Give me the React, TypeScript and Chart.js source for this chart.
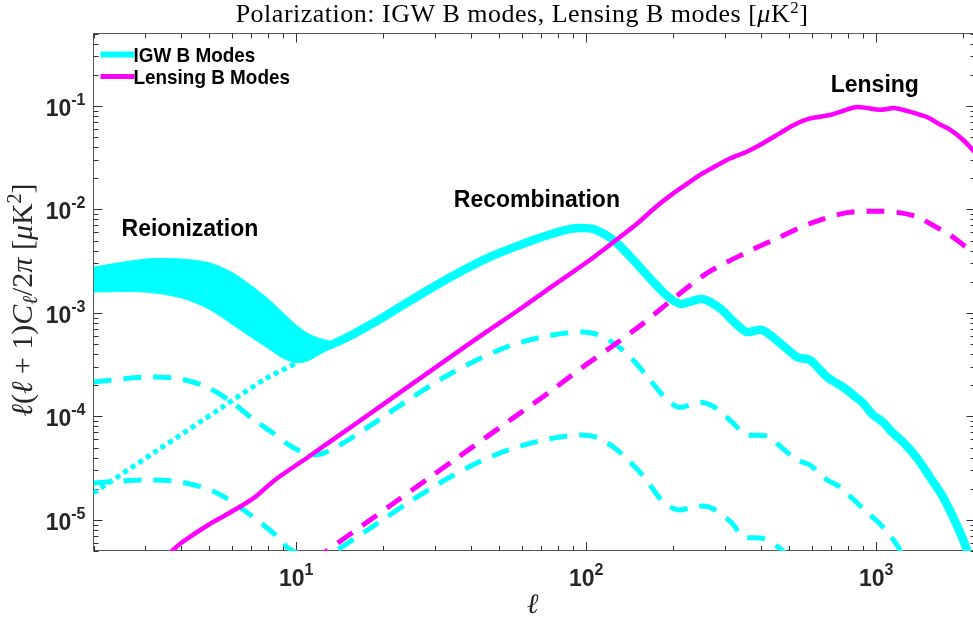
import React, { useEffect, useRef } from 'react';
import { Chart, registerables } from 'chart.js';

Chart.register(...registerables);

// ---------------- data ----------------
// Reionization band (IGW B modes, range) : multipole and upper / lower edges
const bandEll = [2, 3, 4, 5, 6, 7, 8, 9, 10, 11, 12, 13];
const bandUpper = [2.77e-3, 3.3e-3, 3.31e-3, 3.04e-3, 2.46e-3, 1.83e-3, 1.36e-3, 1.0e-3, 7.6e-4, 6.3e-4, 5.66e-4, 5.36e-4];
const bandLower = [1.59e-3, 1.59e-3, 1.4e-3, 1.09e-3, 7.8e-4, 5.8e-4, 4.55e-4, 3.66e-4, 3.3e-4, 3.45e-4, 3.95e-4, 4.45e-4];

// IGW B modes (thick solid)
const igwEll = [12.3, 13.1, 15.3, 18.7, 22.8, 28.9, 36.7, 46.6, 59.1, 72.1, 84.5, 95.2, 107, 124, 138, 153, 173, 190, 211, 232, 253, 289, 326, 358, 404, 466, 533, 591, 677, 768, 859, 900, 975, 1055, 1142, 1237, 1382, 1532, 1700, 1840, 1977, 2056, 2200];
const igwVal = [4.75e-4, 4.89e-4, 5.97e-4, 8.16e-4, 1.14e-3, 1.7e-3, 2.48e-3, 3.47e-3, 4.53e-3, 5.52e-3, 6.31e-3, 6.61e-3, 6.38e-3, 5.06e-3, 3.79e-3, 2.77e-3, 1.9e-3, 1.46e-3, 1.22e-3, 1.3e-3, 1.36e-3, 1.11e-3, 7.98e-4, 6.53e-4, 6.83e-4, 5.11e-4, 3.74e-4, 3.5e-4, 2.4e-4, 1.92e-4, 1.5e-4, 1.35e-4, 1.03e-4, 8.81e-5, 6.9e-5, 5.65e-5, 3.96e-5, 2.59e-5, 1.66e-5, 1.07e-5, 6.83e-6, 5.11e-6, 3.1e-6];

// IGW B modes, smaller r (upper dashed)
const igwDashAEll = [2, 3.06, 3.97, 4.92, 6.05, 7.1, 8.32, 9.52, 10.7, 12.1, 14.5, 19, 24.7, 32.1, 42, 55.5, 73.3, 95.2, 109, 124, 142, 162, 180, 194, 210, 232, 253, 283, 321, 353, 390, 424, 466, 533, 591, 677, 750, 859, 929, 1055, 1180, 1256];
const igwDashAVal = [2.15e-4, 2.4e-4, 2.3e-4, 1.92e-4, 1.35e-4, 9.4e-5, 6.9e-5, 5.2e-5, 4.45e-5, 4.3e-5, 5.5e-5, 9.0e-5, 1.48e-4, 2.35e-4, 3.5e-4, 4.89e-4, 5.97e-4, 6.53e-4, 6.2e-4, 5.11e-4, 3.74e-4, 2.45e-4, 1.7e-4, 1.38e-4, 1.22e-4, 1.31e-4, 1.36e-4, 1.18e-4, 8.6e-5, 6.7e-5, 6.55e-5, 6.4e-5, 5.16e-5, 3.8e-5, 3.39e-5, 2.43e-5, 2.08e-5, 1.46e-5, 1.19e-5, 8.53e-6, 5.71e-6, 4.1e-6];

// IGW B modes, smallest r (lower dashed)
const igwDashBEll = [2, 3.01, 4.0, 5.25, 6.82, 8.65, 9.37, 10.7, 12.1, 13.8, 19, 24.1, 31.3, 40.6, 54.6, 73.1, 95.3, 110, 124, 134, 153, 166, 184, 206, 232, 253, 274, 318, 347, 407, 459, 533, 600];
const igwDashBVal = [2.27e-5, 2.43e-5, 2.32e-5, 1.86e-5, 1.16e-5, 6.83e-6, 5.35e-6, 4.5e-6, 4.3e-6, 5.1e-6, 9.2e-6, 1.44e-5, 2.27e-5, 3.39e-5, 4.8e-5, 6.0e-5, 6.6e-5, 6.2e-5, 5.06e-5, 4.23e-5, 2.9e-5, 2.17e-5, 1.5e-5, 1.25e-5, 1.32e-5, 1.36e-5, 1.28e-5, 9.33e-6, 6.9e-6, 6.6e-6, 5.47e-6, 3.8e-6, 3.4e-6];

// reionization bump, low optical depth (dotted)
const reionDotEll = [2, 3.26, 5.5, 7.93, 10.06];
const reionDotVal = [1.82e-5, 4.53e-5, 1.2e-4, 2.35e-4, 3.28e-4];

// Lensing B modes (solid)
const lensEll = [3.5, 3.7, 4.01, 4.97, 5.96, 7.21, 8.45, 11, 14.3, 20, 40, 60, 80, 103, 125, 150, 175, 199, 225, 250, 280, 313, 358, 407, 466, 516, 577, 640, 700, 750, 800, 859, 929, 1030, 1161, 1340, 1496, 1660, 1796, 1991, 2200];
const lensVal = [4.2e-6, 4.89e-6, 5.97e-6, 8.92e-6, 1.19e-5, 1.66e-5, 2.43e-5, 4.05e-5, 6.78e-5, 1.31e-4, 5.15e-4, 1.12e-3, 1.98e-3, 3.24e-3, 4.9e-3, 7.3e-3, 1.07e-2, 1.42e-2, 1.8e-2, 2.2e-2, 2.62e-2, 3.1e-2, 3.6e-2, 4.35e-2, 5.45e-2, 6.45e-2, 7.4e-2, 7.85e-2, 8.2e-2, 8.73e-2, 9.3e-2, 9.75e-2, 9.55e-2, 9.15e-2, 9.5e-2, 8.6e-2, 7.8e-2, 6.6e-2, 5.9e-2, 4.7e-2, 3.5e-2];

// Lensing B modes after delensing (dashed)
const delensEll = [11.5, 12.6, 17, 21.6, 28.2, 35.8, 45.5, 59.1, 75, 97.5, 121, 157, 199, 261, 358, 466, 591, 793, 1000, 1200, 1393, 1600, 1754, 1945, 2200];
const delensVal = [4.0e-6, 4.89e-6, 8.9e-6, 1.44e-5, 2.45e-5, 3.95e-5, 6.37e-5, 1.075e-4, 1.73e-4, 3.0e-4, 4.6e-4, 7.9e-4, 1.36e-3, 2.42e-3, 3.85e-3, 5.4e-3, 7.3e-3, 9.3e-3, 9.6e-3, 9.3e-3, 8.4e-3, 6.8e-3, 5.9e-3, 4.8e-3, 3.6e-3];

// annotations (anchored in data coordinates)
const annotLabels = ['Reionization', 'Recombination', 'Lensing'];
const annotEll = [4.3, 67.6, 989];
const annotVal = [6.6e-3, 1.26e-2, 0.163];

// legend
const legendLabels = ['IGW B Modes', 'Lensing B Modes'];

// axes
const xMin = 2;
const xMax = 2200;
const yMin = 5e-6;
const yMax = 0.5;
const xMajorTicks = [10, 100, 1000];
const xMajorExp = ['1', '2', '3'];
const yMajorTicks = [1e-5, 1e-4, 1e-3, 1e-2, 1e-1];
const yMajorExp = ['-5', '-4', '-3', '-2', '-1'];

const titleText = 'Polarization: IGW B modes, Lensing B modes [';
const xLabelText = 'ℓ';

// ---------------- styles ----------------
const CYAN = '#00ffff';
const MAGENTA = '#ff00ff';
const SANS = '"Liberation Sans", Arial, Helvetica, sans-serif';
const SERIF = '"Liberation Serif", "Times New Roman", serif';
const AXIS = '#555555';
const TICKTXT = '#262626';

const pts = (xs: number[], ys: number[]) => xs.map((x, i) => ({ x, y: ys[i] }));

type Seg = { t: string; font: string; dy?: number };

function drawSegs(ctx: CanvasRenderingContext2D, segs: Seg[], x: number, y: number, align: 'left' | 'center' | 'right') {
  let w = 0;
  for (const s of segs) {
    ctx.font = s.font;
    w += ctx.measureText(s.t).width;
  }
  let cx = align === 'left' ? x : align === 'center' ? x - w / 2 : x - w;
  ctx.textAlign = 'left';
  ctx.textBaseline = 'alphabetic';
  for (const s of segs) {
    ctx.font = s.font;
    ctx.fillText(s.t, cx, y + (s.dy || 0));
    cx += ctx.measureText(s.t).width;
  }
}

function logTicks(min: number, max: number) {
  const out: { v: number; major: boolean }[] = [];
  let dec = Math.pow(10, Math.floor(Math.log10(min)));
  while (dec <= max) {
    for (let m = 1; m <= 9; m++) {
      const v = m * dec;
      if (v >= min * 0.9999 && v <= max * 1.0001) out.push({ v, major: m === 1 });
    }
    dec *= 10;
  }
  return out;
}

const decorPlugin = {
  id: 'decor',
  beforeDatasetsDraw(chart: any) {
    const { ctx, chartArea: a, scales } = chart;
    const xs = scales.x;
    const ys = scales.y;
    ctx.save();
    ctx.strokeStyle = AXIS;
    ctx.lineWidth = 1;
    ctx.beginPath();
    ctx.rect(a.left, a.top, a.right - a.left, a.bottom - a.top - 0.5);
    ctx.stroke();
    ctx.strokeStyle = '#333333';
    ctx.beginPath();
    for (const t of logTicks(xMin, xMax)) {
      const px = Math.round(xs.getPixelForValue(t.v)) + 0.5;
      const len = t.major ? 9 : 5;
      ctx.moveTo(px, a.bottom);
      ctx.lineTo(px, a.bottom - len);
      ctx.moveTo(px, a.top);
      ctx.lineTo(px, a.top + len);
    }
    for (const t of logTicks(yMin, yMax)) {
      const py = Math.round(ys.getPixelForValue(t.v)) + 0.5;
      const len = t.major ? 9 : 5;
      ctx.moveTo(a.left, py);
      ctx.lineTo(a.left + len, py);
      ctx.moveTo(a.right, py);
      ctx.lineTo(a.right - len, py);
    }
    ctx.stroke();
    ctx.restore();
  },
  afterDraw(chart: any) {
    const { ctx, chartArea: a, scales } = chart;
    const xs = scales.x;
    const ys = scales.y;
    ctx.save();
    // tick labels
    ctx.fillStyle = TICKTXT;
    const big = `bold 23px ${SANS}`;
    const sup = `bold 16px ${SANS}`;
    xMajorTicks.forEach((v, i) => {
      const px = xs.getPixelForValue(v);
      drawSegs(ctx, [{ t: '10', font: big }, { t: xMajorExp[i], font: sup, dy: -11 }], px, a.bottom + 35, 'center');
    });
    yMajorTicks.forEach((v, i) => {
      const py = ys.getPixelForValue(v);
      drawSegs(ctx, [{ t: '10', font: big }, { t: yMajorExp[i], font: sup, dy: -11 }], a.left - 8, py + 10, 'right');
    });

    // title
    ctx.fillStyle = '#000000';
    const tN = `26px ${SERIF}`;
    const tI = `italic 26px ${SERIF}`;
    const tS = `17px ${SERIF}`;
    try { (ctx as any).letterSpacing = '0.5px'; } catch (e) { /* ignore */ }
    drawSegs(ctx, [
      { t: titleText, font: tN },
      { t: 'μ', font: tI },
      { t: 'K', font: tN },
      { t: '2', font: tS, dy: -9 },
      { t: ']', font: tN },
    ], 522, 22, 'center');
    try { (ctx as any).letterSpacing = '0px'; } catch (e) { /* ignore */ }

    // x label
    ctx.fillStyle = '#262626';
    drawSegs(ctx, [{ t: xLabelText, font: `italic 28px ${SERIF}` }], (a.left + a.right) / 2 - 2, a.bottom + 62, 'center');

    // y label
    const yN = `30px ${SERIF}`;
    const yI = `italic 30px ${SERIF}`;
    const yS = `italic 21px ${SERIF}`;
    const yS2 = `20px ${SERIF}`;
    ctx.save();
    ctx.translate(32, 300);
    ctx.rotate(-Math.PI / 2);
    drawSegs(ctx, [
      { t: 'ℓ', font: yI },
      { t: '(', font: yN },
      { t: 'ℓ', font: yI },
      { t: ' + 1)', font: yN },
      { t: 'C', font: yI },
      { t: 'ℓ', font: yS, dy: 5 },
      { t: '/2', font: yN },
      { t: 'π', font: yI },
      { t: ' [', font: yN },
      { t: 'μ', font: yI },
      { t: 'K', font: yN },
      { t: '2', font: yS2, dy: -11 },
      { t: ']', font: yN },
    ], 0, 0, 'center');
    ctx.restore();

    // annotations
    ctx.fillStyle = '#000000';
    annotLabels.forEach((lab, i) => {
      const px = xs.getPixelForValue(annotEll[i]);
      const py = ys.getPixelForValue(annotVal[i]);
      drawSegs(ctx, [{ t: lab, font: `bold 23px ${SANS}` }], px, py + 8, 'center');
    });

    // legend
    const legColors = [CYAN, MAGENTA];
    const legWidths = [6, 5];
    legendLabels.forEach((lab, i) => {
      const y = a.top + 21 + i * 22;
      ctx.strokeStyle = legColors[i];
      ctx.lineWidth = legWidths[i];
      ctx.beginPath();
      ctx.moveTo(a.left + 7, y);
      ctx.lineTo(a.left + 41, y);
      ctx.stroke();
      ctx.fillStyle = '#000000';
      ctx.save();
      ctx.translate(a.left + 40, y + 7);
      ctx.scale(0.9, 1);
      drawSegs(ctx, [{ t: lab, font: `bold 21px ${SANS}` }], 0, 0, 'left');
      ctx.restore();
    });
    ctx.restore();
  },
};

export default function App() {
  const ref = useRef<HTMLCanvasElement>(null);
  useEffect(() => {
    const canvas = ref.current;
    if (!canvas) return;
    const common = { pointRadius: 0, clip: 0, fill: false, tension: 0.3 };
    const chart = new Chart(canvas, {
      type: 'line',
      data: {
        datasets: [
          { ...common, label: 'Lensing B Modes', data: pts(lensEll, lensVal), borderColor: MAGENTA, borderWidth: 4.5, order: 0, borderJoinStyle: 'round' },
          { ...common, label: 'Delensed', data: pts(delensEll, delensVal), borderColor: MAGENTA, borderWidth: 5, borderDash: [18, 12], borderCapStyle: 'butt', order: 1 },
          { ...common, label: 'IGW B Modes', data: pts(igwEll, igwVal), borderColor: CYAN, borderWidth: 8.5, order: 2, borderJoinStyle: 'round' },
          { ...common, label: 'IGW dashed A', data: pts(igwDashAEll, igwDashAVal), borderColor: CYAN, borderWidth: 5, borderDash: [18, 12], borderCapStyle: 'butt', order: 3 },
          { ...common, label: 'IGW dashed B', data: pts(igwDashBEll, igwDashBVal), borderColor: CYAN, borderWidth: 5, borderDash: [18, 12], borderCapStyle: 'butt', order: 4 },
          { ...common, label: 'Reion dotted', data: pts(reionDotEll, reionDotVal), borderColor: CYAN, borderWidth: 5, borderDash: [5, 4], borderCapStyle: 'butt', order: 5 },
          { ...common, label: 'band upper', data: pts(bandEll, bandUpper), borderColor: CYAN, borderWidth: 1, order: 6 },
          { ...common, label: 'band lower', data: pts(bandEll, bandLower), borderColor: CYAN, borderWidth: 1, backgroundColor: CYAN, fill: '-1', order: 7 },
        ] as any,
      },
      options: {
        animation: false,
        responsive: false,
        devicePixelRatio: 1,
        layout: { padding: { left: 93.5, top: 33.5, right: 9.5, bottom: 70 } },
        scales: {
          x: { type: 'logarithmic', min: xMin, max: xMax, display: false },
          y: { type: 'logarithmic', min: yMin, max: yMax, display: false },
        },
        plugins: {
          legend: { display: false },
          tooltip: { enabled: false },
          title: { display: false },
        },
        elements: { point: { radius: 0 } },
      },
      plugins: [decorPlugin],
    });
    return () => chart.destroy();
  }, []);
  return (
    <div style={{ position: 'fixed', left: 0, top: 0, width: 973, height: 621, overflow: 'hidden', background: '#ffffff' }}>
      <canvas ref={ref} width={985} height={621} style={{ display: 'block', width: 985, height: 621 }} />
    </div>
  );
}
